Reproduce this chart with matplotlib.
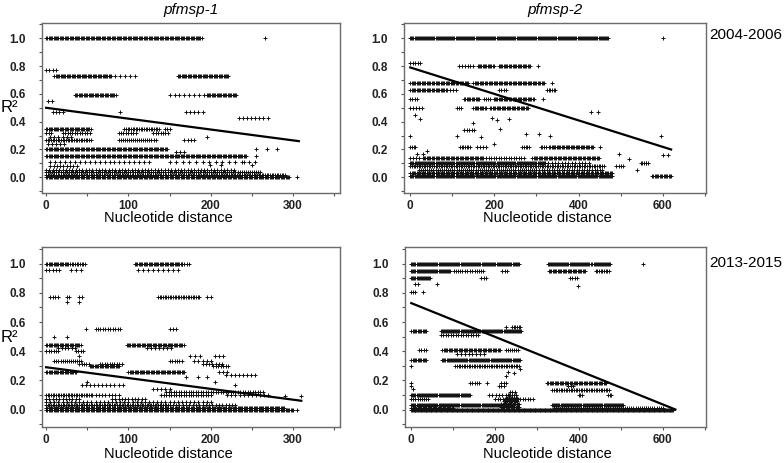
import matplotlib
matplotlib.use('Agg')

import numpy as np
import matplotlib.pyplot as plt
from matplotlib.ticker import MultipleLocator

plt.rcParams['font.family'] = ['Liberation Sans', 'DejaVu Sans']

# ---- data: horizontal runs of LD points (R2 level, distance from, distance to, spacing)
# pfmsp-1, 2004-2006
msp1_0406_bands = [
    (1.00, 0, 190, 1.5), (0.77, 0, 15, 4), (0.73, 10, 80, 1.5), (0.73, 84, 112, 6),
    (0.73, 160, 222, 1.5), (0.59, 35, 85, 1.5), (0.59, 150, 192, 6), (0.59, 195, 232, 1.5),
    (0.55, 2, 8, 5), (0.47, 8, 20, 4), (0.47, 170, 192, 5), (0.43, 234, 272, 5),
    (0.35, 0, 55, 1.5), (0.35, 95, 138, 2), (0.35, 144, 150, 3),
    (0.32, 0, 8, 3), (0.32, 20, 55, 3), (0.32, 88, 110, 3), (0.32, 130, 150, 3),
    (0.29, 5, 30, 5), (0.27, 0, 55, 2), (0.27, 88, 135, 2.5), (0.27, 168, 180, 4),
    (0.24, 2, 22, 5), (0.20, 0, 148, 1.5), (0.18, 158, 170, 5), (0.15, 0, 244, 1.5),
    (0.11, 5, 130, 6), (0.11, 150, 255, 8), (0.08, 5, 40, 4), (0.05, 0, 230, 4),
    (0.035, 0, 260, 2.5), (0.02, 0, 290, 2), (0.005, 0, 296, 1.5),
]
msp1_0406_x = [266, 305, 90, 255, 268, 280, 255, 195, 240, 199, 213, 250]
msp1_0406_y = [1.0, 0.005, 0.47, 0.20, 0.20, 0.20, 0.15, 0.29, 0.11, 0.09, 0.09, 0.09]
msp1_0406_fit_x = [0, 307]
msp1_0406_fit_y = [0.50, 0.26]

# pfmsp-2, 2004-2006
msp2_0406_bands = [
    (1.00, 0, 470, 2.5), (0.82, 0, 28, 6), (0.80, 115, 150, 7), (0.80, 160, 200, 3),
    (0.80, 210, 285, 3), (0.68, 0, 140, 3), (0.68, 150, 318, 3), (0.63, 0, 88, 3),
    (0.63, 95, 110, 7), (0.63, 210, 232, 6), (0.63, 325, 345, 4),
    (0.56, 0, 15, 5), (0.56, 128, 165, 3), (0.56, 175, 190, 5), (0.56, 198, 295, 3),
    (0.50, 0, 30, 7), (0.50, 112, 120, 4), (0.50, 150, 182, 3), (0.50, 190, 282, 3),
    (0.47, 430, 448, 16), (0.34, 128, 152, 6),
    (0.22, 0, 15, 4), (0.22, 118, 145, 4), (0.22, 158, 180, 7), (0.22, 266, 282, 4),
    (0.22, 310, 325, 4), (0.22, 330, 435, 3),
    (0.14, 0, 25, 7), (0.14, 30, 175, 3), (0.14, 180, 270, 6), (0.14, 290, 450, 3),
    (0.105, 0, 320, 2.5), (0.105, 320, 430, 8), (0.105, 548, 566, 4),
    (0.08, 0, 460, 4), (0.08, 490, 505, 5), (0.05, 20, 300, 5), (0.05, 300, 460, 6),
    (0.03, 0, 480, 3), (0.012, 0, 480, 2.5), (0.012, 575, 620, 3),
]
msp2_0406_x = [600, 304, 337, 316, 10, 22, 195, 205, 235, 150, 214, 0, 110, 275, 305,
               332, 595, 169, 200, 15, 30, 40, 497, 600, 612, 450, 520, 540, 560]
msp2_0406_y = [1.0, 0.80, 0.68, 0.56, 0.45, 0.42, 0.43, 0.41, 0.42, 0.39, 0.35, 0.30, 0.30,
               0.31, 0.31, 0.30, 0.30, 0.29, 0.24, 0.17, 0.17, 0.19, 0.17, 0.16, 0.16, 0.22,
               0.13, 0.05, 0.10]
msp2_0406_fit_x = [0, 620]
msp2_0406_fit_y = [0.79, 0.20]

# pfmsp-1, 2013-2015
msp1_1315_bands = [
    (1.00, 0, 27, 1.5), (1.00, 29, 48, 2), (1.00, 108, 165, 1.5), (1.00, 165, 175, 3),
    (0.955, 0, 18, 4), (0.955, 30, 45, 6), (0.955, 112, 160, 6),
    (0.77, 5, 15, 3), (0.77, 25, 30, 3), (0.77, 40, 45, 3), (0.77, 136, 187, 2),
    (0.77, 195, 200, 5), (0.55, 60, 90, 3), (0.55, 150, 160, 4),
    (0.44, 0, 43, 1.5), (0.44, 98, 168, 1.5), (0.42, 15, 35, 4), (0.42, 122, 154, 5),
    (0.40, 0, 15, 3), (0.40, 36, 47, 3), (0.37, 175, 190, 6), (0.37, 205, 215, 5),
    (0.335, 10, 43, 2.5), (0.335, 150, 165, 3), (0.335, 180, 200, 5),
    (0.315, 40, 53, 3), (0.315, 65, 92, 3), (0.315, 190, 215, 4),
    (0.30, 53, 90, 1.5), (0.30, 203, 223, 3),
    (0.26, 0, 37, 1.5), (0.26, 100, 168, 1.5), (0.26, 210, 220, 5), (0.24, 219, 255, 5),
    (0.167, 43, 94, 5), (0.14, 130, 150, 5), (0.12, 146, 264, 3),
    (0.10, 0, 57, 2), (0.10, 60, 90, 4), (0.10, 140, 200, 3), (0.10, 220, 270, 5),
    (0.07, 0, 40, 4), (0.07, 80, 120, 4), (0.05, 0, 200, 5),
    (0.034, 0, 150, 2), (0.034, 150, 230, 4), (0.012, 0, 290, 1.5), (0.0, 0, 300, 1.5),
]
msp1_1315_x = [49, 10, 25, 25, 40, 40, 50, 205, 230, 170, 185, 290, 310, 195, 305]
msp1_1315_y = [0.55, 0.50, 0.50, 0.737, 0.737, 0.37, 0.19, 0.19, 0.167, 0.22, 0.22,
               0.09, 0.09, 0.225, 0.0]
msp1_1315_fit_x = [0, 310]
msp1_1315_fit_y = [0.29, 0.06]

# pfmsp-2, 2013-2015
msp2_1315_bands = [
    (1.00, 0, 200, 2.5), (1.00, 204, 257, 2.5), (1.00, 325, 431, 2.5), (1.00, 435, 475, 2.5),
    (0.95, 0, 94, 2.5), (0.95, 102, 133, 5), (0.95, 141, 173, 5), (0.95, 217, 229, 6),
    (0.95, 328, 415, 3), (0.95, 440, 475, 4),
    (0.90, 0, 46, 2.5), (0.90, 167, 181, 6), (0.90, 378, 399, 6),
    (0.86, 10, 20, 6), (0.806, 0, 10, 5), (0.565, 240, 260, 4),
    (0.537, 0, 38, 3), (0.537, 70, 264, 2.5), (0.51, 70, 161, 6),
    (0.41, 18, 38, 6), (0.41, 74, 213, 3), (0.41, 225, 256, 5), (0.38, 110, 181, 9),
    (0.342, 0, 38, 3), (0.342, 74, 260, 2.5), (0.297, 105, 260, 4),
    (0.183, 141, 161, 5), (0.183, 215, 230, 6), (0.183, 324, 467, 3),
    (0.16, 209, 225, 6), (0.16, 375, 385, 5), (0.137, 336, 474, 4),
    (0.098, 0, 141, 2.5), (0.098, 185, 250, 8), (0.098, 399, 407, 4), (0.098, 470, 476, 3),
    (0.07, 0, 40, 5), (0.07, 200, 290, 6),
    (0.12, 235, 250, 6), (0.10, 230, 252, 5), (0.08, 225, 255, 4), (0.06, 220, 255, 3),
    (0.04, 215, 258, 3), (0.02, 213, 260, 3),
    (0.032, 0, 240, 2.5), (0.032, 336, 506, 2.5), (0.012, 0, 100, 3), (0.012, 340, 600, 5),
    (0.0, 0, 625, 2),
]
msp2_1315_x = [552, 62, 398, 28, 225, 0, 225, 230, 245, 260, 0, 0, 5, 180, 560, 600]
msp2_1315_y = [1.0, 0.86, 0.845, 0.806, 0.565, 0.297, 0.23, 0.26, 0.25, 0.28, 0.18,
               0.16, 0.14, 0.18, 0.01, 0.005]
msp2_1315_fit_x = [0, 630]
msp2_1315_fit_y = [0.73, 0.0]

genes = ['pfmsp-1', 'pfmsp-2']
periods = ['2004-2006', '2013-2015']


def band_points(bands, ex_x, ex_y):
    xs, ys = [], []
    for lvl, x0, x1, step in bands:
        x = np.arange(x0, x1 + 0.01, step)
        xs.append(x)
        ys.append(np.full(len(x), lvl))
    xs.append(np.array(ex_x, dtype=float))
    ys.append(np.array(ex_y, dtype=float))
    return np.concatenate(xs), np.concatenate(ys)


def draw_panel(ax, bands, ex_x, ex_y, fit_x, fit_y, wide, ylim):
    x, y = band_points(bands, ex_x, ex_y)
    ax.plot(x, y, linestyle='none', marker='+', markersize=2.6, mew=0.7, color='#111111')
    ax.plot(fit_x, fit_y, color='black', lw=1.6)
    if wide:
        ax.set_xlim(-15, 703)
        ax.xaxis.set_major_locator(MultipleLocator(200))
        ax.xaxis.set_minor_locator(MultipleLocator(100))
    else:
        ax.set_xlim(-5, 357)
        ax.xaxis.set_major_locator(MultipleLocator(100))
        ax.xaxis.set_minor_locator(MultipleLocator(50))
    ax.set_ylim(*ylim)
    ax.yaxis.set_major_locator(MultipleLocator(0.2))
    ax.yaxis.set_minor_locator(MultipleLocator(0.1))
    ax.yaxis.set_major_formatter(plt.FormatStrFormatter('%.1f'))
    ax.tick_params(which='both', direction='out', length=2.5, width=0.8, color='#555555')
    ax.tick_params(axis='y', which='both', pad=9)
    ax.tick_params(axis='x', which='both', pad=2.5)
    for lab in ax.get_xticklabels() + ax.get_yticklabels():
        lab.set_fontsize(8.5)
        lab.set_fontweight('bold')
        lab.set_color('#222222')
    for sp in ax.spines.values():
        sp.set_color('#6a6a6a')
        sp.set_linewidth(1.0)


W, H = 784, 463
fig = plt.figure(figsize=(W / 100, H / 100), dpi=100)

def px_axes(l, t, r, b):
    return fig.add_axes([l / W, 1 - b / H, (r - l) / W, (b - t) / H])

ax_tl = px_axes(42, 23, 340, 193)
ax_tr = px_axes(404, 23, 706, 193)
ax_bl = px_axes(42, 247, 340, 427)
ax_br = px_axes(405, 247, 706, 427)

draw_panel(ax_tl, msp1_0406_bands, msp1_0406_x, msp1_0406_y, msp1_0406_fit_x, msp1_0406_fit_y,
           False, (-0.113, 1.11))
draw_panel(ax_tr, msp2_0406_bands, msp2_0406_x, msp2_0406_y, msp2_0406_fit_x, msp2_0406_fit_y,
           True, (-0.113, 1.11))
draw_panel(ax_bl, msp1_1315_bands, msp1_1315_x, msp1_1315_y, msp1_1315_fit_x, msp1_1315_fit_y,
           False, (-0.12, 1.115))
draw_panel(ax_br, msp2_1315_bands, msp2_1315_x, msp2_1315_y, msp2_1315_fit_x, msp2_1315_fit_y,
           True, (-0.12, 1.115))

# titles, axis labels (pixel positions)
def ftext(x, y, s, **kw):
    fig.text(x / W, 1 - y / H, s, **kw)

ftext(191, 10, genes[0], ha='center', va='center', fontsize=11, style='italic')
ftext(555, 10, genes[1], ha='center', va='center', fontsize=11, style='italic')
ftext(746, 35, periods[0], ha='center', va='center', fontsize=11)
ftext(746, 263, periods[1], ha='center', va='center', fontsize=11)
for yc in (107, 337):
    ftext(1, yc, 'R²', ha='left', va='center', fontsize=12)
for xc, yc in ((168, 218), (547, 218), (168, 454), (547, 454)):
    ftext(xc, yc, 'Nucleotide distance', ha='center', va='center', fontsize=10.5)

fig.savefig('out.png', dpi=100)
